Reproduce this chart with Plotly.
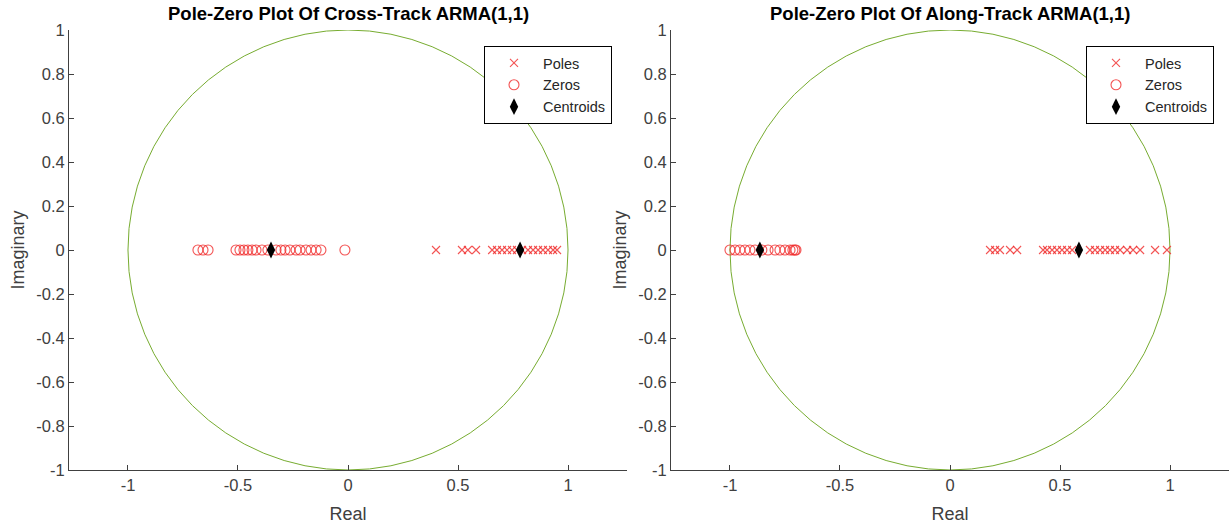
import plotly.graph_objects as go

# ---------------- data ----------------
cross_zeros = [-0.682, -0.659, -0.636, -0.509, -0.491, -0.473, -0.455, -0.436, -0.418,
               -0.391, -0.364, -0.327, -0.305, -0.286, -0.264, -0.236, -0.218, -0.191,
               -0.168, -0.145, -0.123, -0.014]
cross_poles = [0.400, 0.518, 0.545, 0.582, 0.655, 0.677, 0.700, 0.723, 0.745, 0.768,
               0.791, 0.818, 0.841, 0.864, 0.886, 0.909, 0.932, 0.950]
cross_centroids = [-0.350, 0.782]

along_zeros = [-1.000, -0.977, -0.955, -0.932, -0.909, -0.886, -0.855, -0.827, -0.795,
               -0.773, -0.750, -0.727, -0.714, -0.705, -0.700]
along_poles = [0.182, 0.205, 0.227, 0.273, 0.305, 0.423, 0.441, 0.464, 0.486, 0.509,
               0.532, 0.555, 0.636, 0.659, 0.682, 0.705, 0.727, 0.750, 0.773, 0.805,
               0.832, 0.864, 0.932, 0.986]
along_centroids = [-0.864, 0.586]

titles = ["Pole-Zero Plot Of Cross-Track ARMA(1,1)", "Pole-Zero Plot Of Along-Track ARMA(1,1)"]
x_tickvals = [-1, -0.5, 0, 0.5, 1]
x_ticktext = ["-1", "-0.5", "0", "0.5", "1"]
y_tickvals = [1, 0.8, 0.6, 0.4, 0.2, 0, -0.2, -0.4, -0.6, -0.8, -1]
y_ticktext = ["1", "0.8", "0.6", "0.4", "0.2", "0", "-0.2", "-0.4", "-0.6", "-0.8", "-1"]

# ---------------- figure ----------------
W, H = 1229, 527
L_, R_, T_, B_ = 0, 0, 30, 57
plot_h = H - T_ - B_
dom_left = [69 / W, 627 / W]
dom_right = [671 / W, 1.0]

RED = "rgba(240,40,40,0.8)"
AX = "#404040"
FONT = "Liberation Sans, Arial, sans-serif"

fig = go.Figure()

datasets = [(cross_poles, cross_zeros, cross_centroids, "x", "y", "legend"),
            (along_poles, along_zeros, along_centroids, "x2", "y2", "legend2")]

for poles, zeros, cents, xa, ya, lg in datasets:
    fig.add_trace(go.Scatter(x=poles, y=[0] * len(poles), mode="markers", name="Poles",
                             xaxis=xa, yaxis=ya, legend=lg,
                             marker=dict(symbol="x-thin-open", size=8,
                                         line=dict(color=RED, width=1.1), color=RED)))
    fig.add_trace(go.Scatter(x=zeros, y=[0] * len(zeros), mode="markers", name="Zeros",
                             xaxis=xa, yaxis=ya, legend=lg,
                             marker=dict(symbol="circle-open", size=10,
                                         line=dict(color=RED, width=1.1), color=RED)))
    fig.add_trace(go.Scatter(x=cents, y=[0] * len(cents), mode="markers", name="Centroids",
                             xaxis=xa, yaxis=ya, legend=lg,
                             marker=dict(symbol="diamond-tall", size=12, color="black",
                                         line=dict(width=0))))
    fig.add_shape(type="circle", xref=xa, yref=ya, x0=-1, y0=-1, x1=1, y1=1,
                  line=dict(color="#77AC30", width=1), layer="below")

axis_common = dict(showgrid=False, zeroline=False, showline=True, linecolor=AX,
                   linewidth=1, ticks="inside", ticklen=5, tickcolor=AX, mirror=False,
                   tickfont=dict(family=FONT, size=16.5, color=AX))

for i, (dom, xa, ya) in enumerate([(dom_left, "xaxis", "yaxis"), (dom_right, "xaxis2", "yaxis2")]):
    anchor_y = "y" if i == 0 else "y2"
    anchor_x = "x" if i == 0 else "x2"
    fig.layout[xa] = dict(axis_common, domain=dom, range=[-1.268, 1.268], anchor=anchor_y,
                          tickvals=x_tickvals, ticktext=x_ticktext,
                          title=dict(text="Real", font=dict(family=FONT, size=18, color=AX),
                                     standoff=14))
    fig.layout[ya] = dict(axis_common, domain=[0, 1], range=[-1, 1], anchor=anchor_x,
                          tickvals=y_tickvals, ticktext=y_ticktext,
                          title=dict(text="Imaginary", font=dict(family=FONT, size=18, color=AX),
                                     standoff=6))
    fig.add_annotation(text="<b>" + titles[i] + "</b>", xref="paper", yref="paper",
                       x=(dom[0] + dom[1]) / 2 if i == 0 else 950 / W, y=1.0,
                       xanchor="center", yanchor="bottom", yshift=4, showarrow=False,
                       font=dict(family=FONT, size=18.5, color="black"))

legend_common = dict(bordercolor="black", borderwidth=1, bgcolor="white",
                     font=dict(family=FONT, size=14.5, color="#262626"),
                     xanchor="right", yanchor="top", y=(H - B_ - 46) / plot_h,
                     tracegroupgap=0, itemsizing="trace", itemwidth=48)
fig.update_layout(
    width=W, height=H,
    margin=dict(l=L_, r=R_, t=T_, b=B_),
    paper_bgcolor="white", plot_bgcolor="white",
    showlegend=True,
    legend=dict(legend_common, x=612 / W),
    legend2=dict(legend_common, x=1214 / W),
    font=dict(family=FONT),
)

fig.write_html("out.html", config={"displayModeBar": False},
               post_script="document.body.style.margin='0';document.body.style.overflow='hidden';")
